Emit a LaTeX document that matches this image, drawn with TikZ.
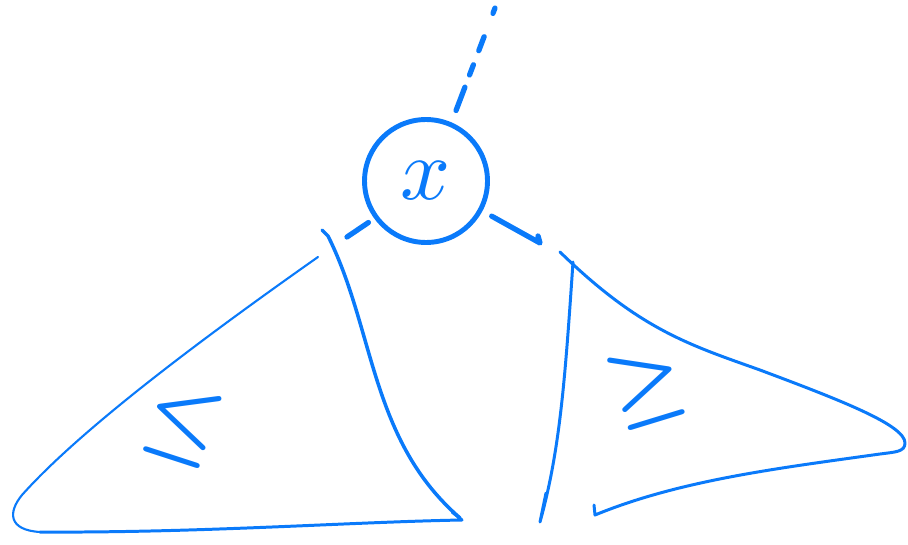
\documentclass[tikz,border=0pt]{standalone}
\usepackage{amsmath}
\usepackage{graphicx}
\usepackage{tikz}

\definecolor{pen}{RGB}{10,122,250}

\begin{document}
\begin{tikzpicture}[x=0.02cm, y=-0.02cm,
        every path/.style={pen, line cap=round, line join=round},
        edge/.style={line width=1.7pt},
        link/.style={line width=3pt},
        key/.style={pen, scale=4.8, font=\boldmath}]
        \useasboundingbox (0,0) rectangle (908,544);

            \node[draw, circle, line width=2.8pt, minimum size=2.46cm, inner sep=0pt,
                  text=pen] (root) at (426,181) {\scalebox{5}{$x$}};

            \coordinate (up) at (495,8);
            \coordinate (ltop) at (347,237);
            \coordinate (rtop) at (540,243);

            \draw[link, dash pattern=on 0.5cm off 0.26cm on 0.22cm off 0.3cm on 0.3cm off 0.5cm on 0.15cm]
                (root.62) ++(0,-14) -- (up);
            \draw[link, shorten <=4pt] (root.216) -- (ltop);
            \draw[link, shorten <=6pt] (root.-28) -- (rtop) -- ++(-2,-7);

            \draw[edge, line width=1.2pt] (318,257) .. controls (200,340) and (80,430) .. (22,495)
                .. controls (8,512) and (8,530) .. (40,532);
            \draw[edge] (40,532) .. controls (200,533) and (350,522) .. (462,520) -- (452,512);
            \draw[edge, line width=2pt] (322,230) -- (328,236) .. controls (375,330) and (370,440) .. (460,518);

            \draw[edge] (560,252) .. controls (640,330) and (690,345) .. (760,370)
                .. controls (840,400) and (905,425) .. (905,443)
                .. controls (905,452) and (895,452) .. (880,454)
                .. controls (780,468) and (680,480) .. (595,515) -- (594,505);
            \draw[edge] (573,262) .. controls (565,380) and (560,450) .. (540,522) -- (546,493);

            \node[key, rotate=-18] (le) at (183,424) {$\leq$};
            \node[key, rotate=17] (ge) at (646,386) {$\geq$};
\end{tikzpicture}
\end{document}
